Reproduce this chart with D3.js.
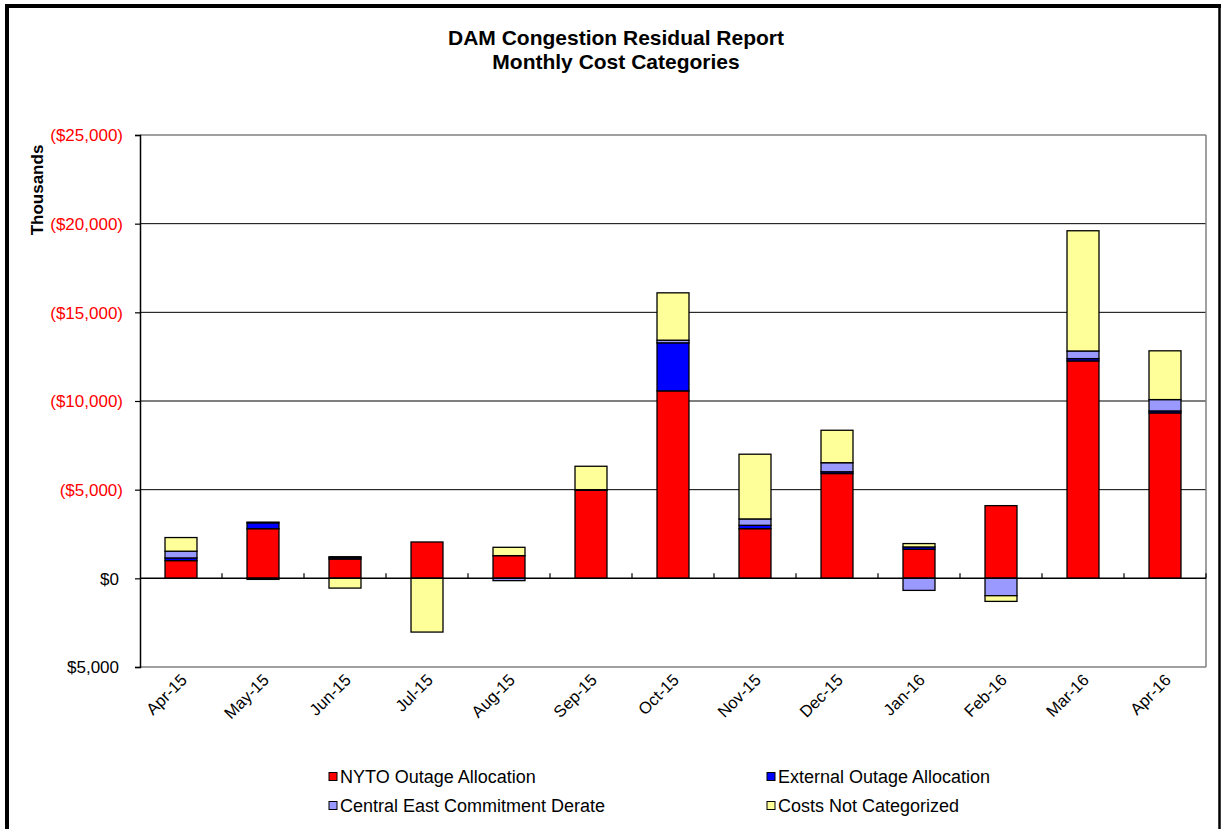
<!DOCTYPE html>
<html><head><meta charset="utf-8">
<script src="https://cdn.jsdelivr.net/npm/d3@7/dist/d3.min.js"></script>
<style>
html,body{margin:0;padding:0;background:#fff;}
svg{display:block;font-family:"Liberation Sans",Arial,sans-serif;}
</style></head>
<body>
<svg id="chart" width="1222" height="829"></svg>
<script>
const months = ["Apr-15","May-15","Jun-15","Jul-15","Aug-15","Sep-15","Oct-15","Nov-15","Dec-15","Jan-16","Feb-16","Mar-16","Apr-16"];
const seriesNames = ["NYTO Outage Allocation","External Outage Allocation","Central East Commitment Derate","Costs Not Categorized"];
// values in thousands of dollars of cost (positive = cost, drawn upward)
const nyto          = [1000, 2800, 1090, 2050, 1280, 4970, 10570, 2800, 5910, 1640, 4100, 12260, 9330];
const external      = [150,   330,   80,    0,    0,   30,  2710,  190,  100,  130,    0,   130,  110];
const centralEast   = [380,    40,   50,    0, -130,    0,   150,  360,  510, -680, -980,   430,  640];
const notCategorized= [770,   -60, -550,-3030,  470, 1320,  2670, 3650, 1830,  190, -320,  6780, 2750];
const yTicks = [-5000, 0, 5000, 10000, 15000, 20000, 25000];
const colors = ["#FF0000","#0000FF","#9999FF","#FFFF99"];

const svg = d3.select("#chart");
// outer frame
svg.append("line").attr("x1",7).attr("x2",7).attr("y1",4).attr("y2",829).attr("stroke","#000").attr("stroke-width",4);
svg.append("line").attr("x1",5).attr("x2",1221).attr("y1",6).attr("y2",6).attr("stroke","#000").attr("stroke-width",4);
svg.append("line").attr("x1",1219.5).attr("x2",1219.5).attr("y1",4).attr("y2",829).attr("stroke","#000").attr("stroke-width",2.5);

const L=140, R=1206, T=135, B=667;
const x = d3.scaleBand().domain(months).range([L,R]).paddingInner(0.61).paddingOuter(0.305);
const y = d3.scaleLinear().domain([-5000,25000]).range([B,T]);

// titles
svg.append("text").attr("x",616).attr("y",45).attr("text-anchor","middle")
  .attr("font-size",21).attr("font-weight","bold").text("DAM Congestion Residual Report");
svg.append("text").attr("x",616).attr("y",69).attr("text-anchor","middle")
  .attr("font-size",21).attr("font-weight","bold").text("Monthly Cost Categories");

// y axis title
svg.append("text").attr("transform","translate(43,190) rotate(-90)").attr("text-anchor","middle")
  .attr("font-size",17).attr("font-weight","bold").text("Thousands");

// gridlines
svg.append("g").selectAll("line").data(yTicks.filter(d=>d!==0)).join("line")
  .attr("x1",L).attr("x2",R).attr("y1",d=>y(d)).attr("y2",d=>y(d))
  .attr("stroke",d=>(d===25000||d===-5000)?"#808080":"#000").attr("stroke-width",d=>(d===25000||d===-5000)?1.5:1);
svg.append("line").attr("x1",R).attr("x2",R).attr("y1",T).attr("y2",B).attr("stroke","#808080").attr("stroke-width",1.5);

// stacked bars
const data = months.map((m,i)=>({month:m, a:nyto[i], b:external[i], c:centralEast[i], d:notCategorized[i]}));
const stack = d3.stack().keys(["a","b","c","d"]).offset(d3.stackOffsetDiverging);
const stacked = stack(data);
svg.append("g").selectAll("g").data(stacked).join("g")
  .attr("fill",(d,i)=>colors[i])
  .selectAll("rect").data(d=>d.filter(p=>p[1]!==p[0])).join("rect")
  .attr("x",p=>x(p.data.month)).attr("width",x.bandwidth())
  .attr("y",p=>y(Math.max(p[0],p[1]))).attr("height",p=>Math.abs(y(p[0])-y(p[1])))
  .attr("stroke","#000").attr("stroke-width",1.3);

// y axis
const fmt = d3.format(",");
const yAxis = d3.axisLeft(y).tickValues(yTicks).tickSize(5).tickPadding(0)
  .tickFormat(d => d>0 ? "($"+fmt(d)+")" : "$"+fmt(Math.abs(d)));
const ya = svg.append("g").attr("transform",`translate(${L},0)`).call(yAxis);
ya.select(".domain").attr("stroke","#000").attr("stroke-width",1.5);
ya.selectAll(".tick line").attr("stroke","#000").attr("stroke-width",1.2);
ya.selectAll(".tick text").attr("font-size",17).attr("font-family","Liberation Sans, Arial, sans-serif")
  .attr("fill",d=>d>0?"#FF0000":"#000").attr("x",d=>d>0?-17:-21).attr("dy","0.34em");

// zero axis line with category ticks
const y0 = y(0);
svg.append("line").attr("x1",L).attr("x2",R).attr("y1",y0).attr("y2",y0).attr("stroke","#000").attr("stroke-width",1.5);
const step = x.step();
svg.append("g").selectAll("line").data(months).join("line")
  .attr("x1",d=>x(d)+x.bandwidth()/2+step/2).attr("x2",d=>x(d)+x.bandwidth()/2+step/2)
  .attr("y1",y0).attr("y2",y0-5).attr("stroke","#000").attr("stroke-width",1.2);

// category labels (rotated, at the bottom)
svg.append("g").selectAll("text").data(months).join("text")
  .attr("transform",d=>`translate(${x(d)+x.bandwidth()/2+7},${B+14}) rotate(-45)`)
  .attr("text-anchor","end").attr("font-size",16.5).text(d=>d);

// legend
const legendPos = [[329,777],[767,777],[329,806],[767,806]];
const lg = svg.append("g").selectAll("g").data(seriesNames).join("g")
  .attr("transform",(d,i)=>`translate(${legendPos[i][0]},${legendPos[i][1]})`);
lg.append("rect").attr("x",0).attr("y",-4.5).attr("width",8).attr("height",8)
  .attr("fill",(d,i)=>colors[i]).attr("stroke","#000").attr("stroke-width",1);
lg.append("text").attr("x",11).attr("y",0).attr("dy","0.35em").attr("font-size",18).text(d=>d);
</script>
</body></html>
